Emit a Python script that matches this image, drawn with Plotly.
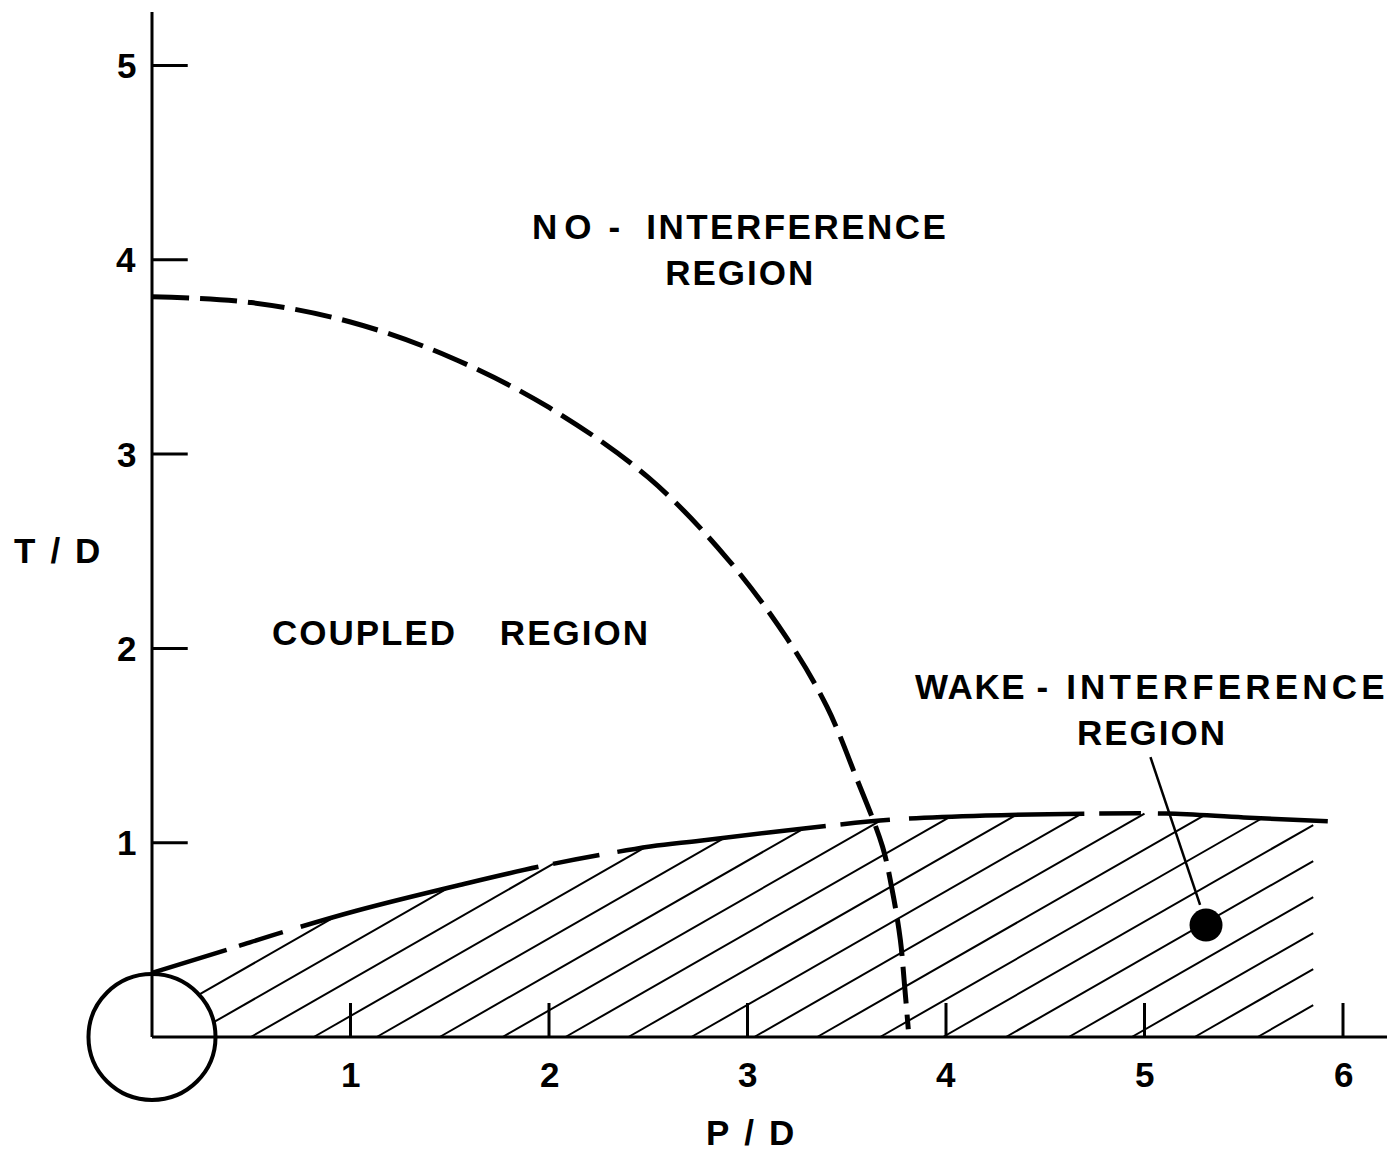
import numpy as np
import plotly.graph_objects as go

# ---------------- data ----------------
# boundary of the coupled region (dashed quarter arc)
arc_x = [0.0, 0.5, 1.0, 1.5, 2.0, 2.5, 2.9, 3.2, 3.4, 3.55, 3.68, 3.73, 3.77, 3.79, 3.81]
arc_y = [3.81, 3.78, 3.68, 3.50, 3.24, 2.88, 2.46, 2.05, 1.70, 1.33, 0.98, 0.75, 0.50, 0.28, 0.04]

# upper boundary of the wake-interference region
wake_x = [0.0, 0.38, 0.66, 1.03, 1.54, 1.99, 2.51, 2.76, 3.43, 3.75, 4.2, 4.74, 5.11, 5.5, 5.93]
wake_y = [0.33, 0.45, 0.54, 0.65, 0.78, 0.885, 0.98, 1.01, 1.09, 1.12, 1.14, 1.15, 1.15, 1.13, 1.11]

# marked test point and its leader line
point_x = [5.31]
point_y = [0.576]
leader_x = [5.03, 5.28]
leader_y = [1.44, 0.68]

x_ticks = [1, 2, 3, 4, 5, 6]
y_ticks = [1, 2, 3, 4, 5]
x_tick_labels = ["1", "2", "3", "4", "5", "6"]
y_tick_labels = ["1", "2", "3", "4", "5"]

# ---------------- geometry / style ----------------
PAGE_MARGIN = 8          # default body margin of the html page
W, H = 1395 - PAGE_MARGIN, 1152 - PAGE_MARGIN
X0PX, Y0PX = 152.0 - PAGE_MARGIN, 1037.0 - PAGE_MARGIN
PX_X, PX_Y = 198.5, 194.3
x_range = [-X0PX / PX_X, (W - X0PX) / PX_X]
y_range = [-(H - Y0PX) / PX_Y, Y0PX / PX_Y]

cyl_rx, cyl_ry = 0.32, 0.324
y_axis_top = 5.275
tick_len_x = 0.18   # y-axis tick length (x units)
tick_len_y = 0.175  # x-axis tick length (y units)

FONT = "Liberation Sans, Arial, sans-serif"
FS = 35
BLACK = "black"
FONT_D = dict(family=FONT, size=FS, color=BLACK, weight="bold")

fig = go.Figure()

# ---- hatching of the wake-interference region ----
m = 0.585
spacing = 0.317
x0_first = -0.136
x_right = 5.85
xs_fine = np.linspace(0, 6.2, 12401)
bnd = np.interp(xs_fine, wake_x, wake_y)
hx, hy = [], []
for k in range(60):
    x0 = x0_first + k * spacing
    if x0 > x_right:
        break
    if x0 >= cyl_rx:
        xs = x0
    else:
        A = 1 / cyl_rx**2 + m**2 / cyl_ry**2
        B = -2 * m**2 * x0 / cyl_ry**2
        C = m**2 * x0**2 / cyl_ry**2 - 1
        xs = (-B + np.sqrt(B * B - 4 * A * C)) / (2 * A)
    mask = (xs_fine >= xs) & ((m * (xs_fine - x0) >= bnd) | (xs_fine >= x_right))
    if not mask.any():
        continue
    xe = xs_fine[np.argmax(mask)]
    if xe <= xs:
        continue
    hx += [xs, xe, None]
    hy += [m * (xs - x0), m * (xe - x0), None]

fig.add_trace(go.Scatter(x=hx, y=hy, mode="lines", line=dict(color=BLACK, width=2),
                         hoverinfo="skip", showlegend=False))

# ---- wake-interference upper boundary (long broken dashes) ----
fig.add_trace(go.Scatter(
    x=wake_x, y=wake_y, mode="lines", line_shape="spline",
    line=dict(color=BLACK, width=4.5,
              dash="78px,13px,46px,19px,245px,15px,47px,18px,210px,15px,50px,19px,175px,15px,42px,17px,170px,20px"),
    hoverinfo="skip", showlegend=False))

# ---- coupled-region boundary (dashed arc) ----
fig.add_trace(go.Scatter(
    x=arc_x, y=arc_y, mode="lines", line_shape="spline",
    line=dict(color=BLACK, width=5, dash="37px,11px"),
    hoverinfo="skip", showlegend=False))

# ---- leader line and point ----
fig.add_trace(go.Scatter(x=leader_x, y=leader_y, mode="lines",
                         line=dict(color=BLACK, width=2.5), hoverinfo="skip", showlegend=False))
fig.add_trace(go.Scatter(x=point_x, y=point_y, mode="markers",
                         marker=dict(color=BLACK, size=33, line=dict(width=0)),
                         hoverinfo="skip", showlegend=False))

shapes = []
# axes lines
shapes.append(dict(type="line", xref="x", yref="y", x0=0, y0=0, x1=0, y1=y_axis_top,
                   line=dict(color=BLACK, width=3)))
shapes.append(dict(type="line", xref="x", yref="y", x0=0, y0=0, x1=x_range[1], y1=0,
                   line=dict(color=BLACK, width=3)))
# ticks (inside)
for v in y_ticks:
    shapes.append(dict(type="line", xref="x", yref="y", x0=0, y0=v, x1=tick_len_x, y1=v,
                       line=dict(color=BLACK, width=3)))
for v in x_ticks:
    shapes.append(dict(type="line", xref="x", yref="y", x0=v, y0=0, x1=v, y1=tick_len_y,
                       line=dict(color=BLACK, width=3)))
# cylinder
shapes.append(dict(type="circle", xref="x", yref="y", x0=-cyl_rx, y0=-cyl_ry, x1=cyl_rx, y1=cyl_ry,
                   line=dict(color=BLACK, width=4)))

annotations = []
for v, t in zip(y_ticks, y_tick_labels):
    annotations.append(dict(x=-0.07, y=v, xref="x", yref="y", text=t, showarrow=False,
                            xanchor="right", yanchor="middle", font=FONT_D))
for v, t in zip(x_ticks, x_tick_labels):
    annotations.append(dict(x=v, y=-0.195, xref="x", yref="y", text=t, showarrow=False,
                            xanchor="center", yanchor="middle", font=FONT_D))


def spaced(s, sp):
    return '<span style="letter-spacing:%gpx">%s</span>' % (sp, s)


def add_text(x, y, text):
    annotations.append(dict(x=x, y=y, xref="x", yref="y", text=text, showarrow=False,
                            xanchor="center", yanchor="middle", align="center", font=FONT_D))


# axis titles
add_text(-0.44, 2.506, spaced("T/D", 15))
add_text(3.05, -0.494, spaced("P/D", 15))

# region labels
add_text(2.962, 4.053,
         spaced("N", 7) + spaced("O", 17) + spaced("-", 26) + spaced("INTERFERENCE", 2.5)
         + "<br>" + spaced("REGION", 2))
add_text(1.557, 2.084, spaced("COUPLED", 2) + spaced(" ", 33) + spaced("REGION", 2))
add_text(5.038, 1.683,
         spaced("WAK", 1.5) + spaced("E", 12) + spaced("-", 18) + spaced("INTERFERENCE", 4.2)
         + "<br>" + spaced("REGION", 2))

fig.update_layout(
    width=W, height=H,
    margin=dict(l=0, r=0, t=0, b=0),
    paper_bgcolor="white", plot_bgcolor="white",
    xaxis=dict(range=x_range, visible=False, fixedrange=True),
    yaxis=dict(range=y_range, visible=False, fixedrange=True),
    shapes=shapes, annotations=annotations, showlegend=False,
)

fig.write_html("out.html")
